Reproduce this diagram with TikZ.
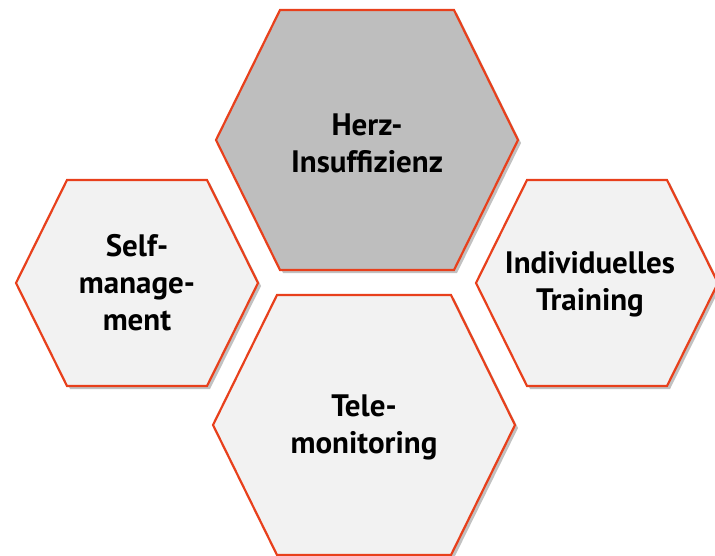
\documentclass[tikz,border=0pt]{standalone}
\usepackage{fontspec}
\setmainfont{PT Sans}
\usepackage{xcolor}
\usepackage{tikz}
\usetikzlibrary{shadows, positioning}
\definecolor{hexline}{HTML}{E8401C}
\definecolor{hexlight}{HTML}{F2F2F2}
\definecolor{hexdark}{HTML}{BEBEBE}
\tikzstyle{cell} = [draw=hexline, line width=2.2pt, line join=miter, drop shadow={shadow xshift=3pt, shadow yshift=-3pt, opacity=0.35, fill=black!70}]
\tikzstyle{label} = [align=center, font=\bfseries\fontsize{31}{37}\selectfont, text=black]
% hexagon: center x, center y, half width, half top edge, half height
\newcommand{\hexcell}[6]{
	\draw[cell, fill=#6] (#1-#4,#2-#5) -- (#1+#4,#2-#5) -- (#1+#3,#2) -- (#1+#4,#2+#5) -- (#1-#4,#2+#5) -- (#1-#3,#2) -- cycle;
}

\begin{document}
\begin{tikzpicture}[x=1pt, y=-1pt]
		
		\useasboundingbox (0,0) rectangle (715,556);
		\clip (0,0) rectangle (715,556);
		
		% cells
		\hexcell{367}{140}{151}{87}{130}{hexdark}
		\hexcell{137}{283}{121}{70}{103}{hexlight}
		\hexcell{597}{283}{121}{70}{103}{hexlight}
		\hexcell{364}{425}{151}{87}{130}{hexlight}
		
		% texts
		\node (herz) [label] at (367,143) {Herz-\\Insuffizienz};
		\node (self) [label] at (137,283) {Self-\\manage-\\ment};
		\node (train) [label] at (590,284) {Individuelles\\Training};
		\node (tele) [label] at (364,427) {Tele-\\monitoring};
		
	\end{tikzpicture}
\end{document}
